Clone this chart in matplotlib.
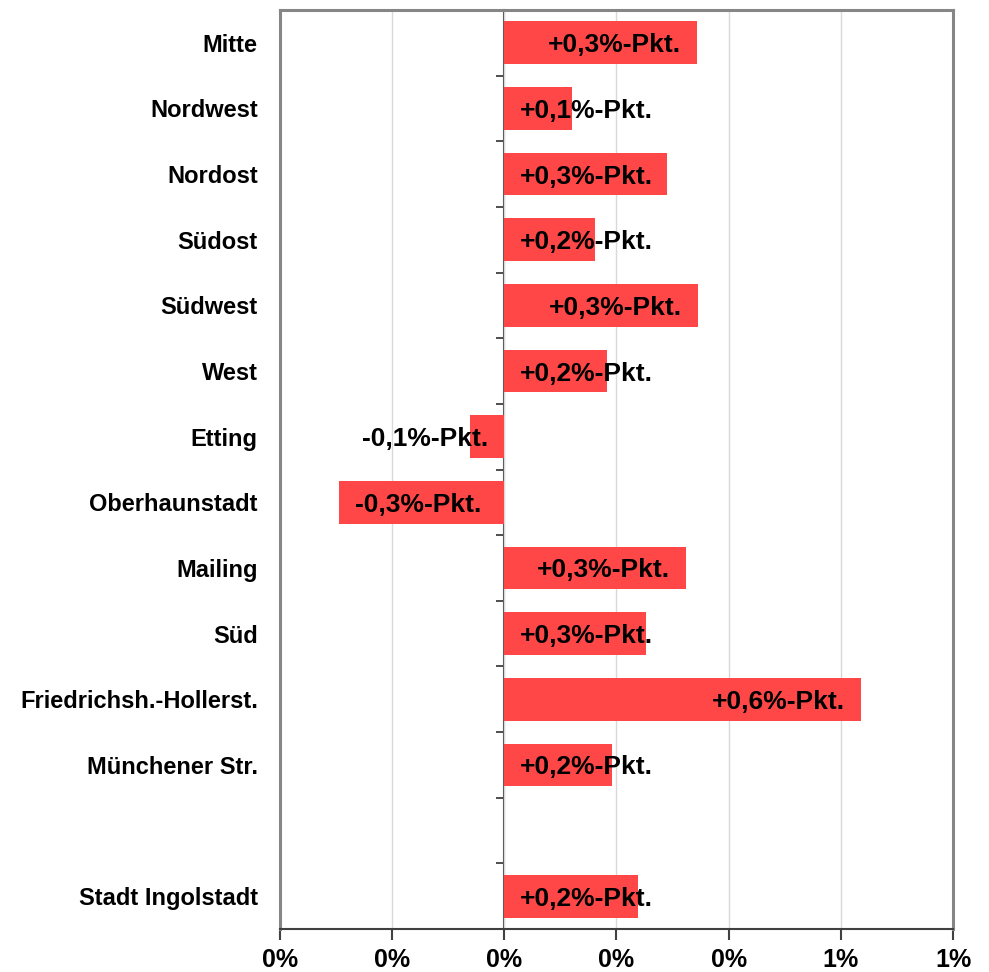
import matplotlib.pyplot as plt
import numpy as np

plt.rcParams['font.family'] = ['Liberation Sans', 'DejaVu Sans']

# change in percentage points
districts = ['Mitte', 'Nordwest', 'Nordost', 'Südost', 'Südwest', 'West',
             'Etting', 'Oberhaunstadt', 'Mailing', 'Süd',
             'Friedrichsh.-Hollerst.', 'Münchener Str.', 'Stadt Ingolstadt']
values = [0.343, 0.121, 0.290, 0.162, 0.345, 0.183,
          -0.062, -0.295, 0.324, 0.252, 0.636, 0.192, 0.238]
# empty slot before the city total
slots = [0, 1, 2, 3, 4, 5, 6, 7, 8, 9, 10, 11, 13]
xticks = [-0.4, -0.2, 0, 0.2, 0.4, 0.6, 0.8]

bar_color = '#ff4747'

fig = plt.figure(figsize=(9.89, 9.72), dpi=100)
ax = fig.add_axes([0.2831, 0.0442, 0.9636 - 0.2831, 0.9897 - 0.0442])

ax.barh(slots, values, height=0.65, color=bar_color, zorder=2)

ax.set_xlim(-0.4, 0.8)
ax.set_ylim(13.5, -0.5)
ax.set_xticks(xticks)
ax.set_xticklabels([f"{round(v)}%" for v in xticks], fontsize=18, fontweight='bold')
ax.set_yticks(slots)
ax.set_yticklabels(districts, fontsize=17, fontweight='bold')
ax.tick_params(axis='y', length=0, pad=16)
ax.tick_params(axis='x', length=8, width=1.5, color='#404040', pad=6)
ax.grid(axis='x', color='#d9d9d9', linewidth=1, zorder=0)
ax.set_axisbelow(True)

for s in ['top', 'left', 'right']:
    ax.spines[s].set_color('#868686')
    ax.spines[s].set_linewidth(2.2)
ax.spines['bottom'].set_color('#404040')
ax.spines['bottom'].set_linewidth(1.5)

# category axis crossing at zero
sec = ax.secondary_yaxis(0.4 / 1.2)
sec.set_yticks(np.arange(-0.5, 14, 1.0), labels=[])
sec.tick_params(length=6, width=1.3, color='#404040')
sec.spines['left'].set_color('#404040')
sec.spines['left'].set_linewidth(1.5)

# data labels: inside end, or from the base when the bar is too short
px = 1.2 / (0.9636 - 0.2831) / 989
pad = 16 * px
w = 132 * px
for y, v in zip(slots, values):
    txt = f"{v:+.1f}".replace('.', ',') + "%-Pkt."
    fits = abs(v) - pad >= pad + w
    if v >= 0:
        x, ha = (v - pad, 'right') if fits else (pad, 'left')
    else:
        x, ha = (v + pad, 'left') if fits else (-pad, 'right')
    ax.text(x, y, txt, ha=ha, va='center_baseline', fontsize=19,
            fontweight='bold', zorder=3)

fig.savefig('out.png', dpi=100)
